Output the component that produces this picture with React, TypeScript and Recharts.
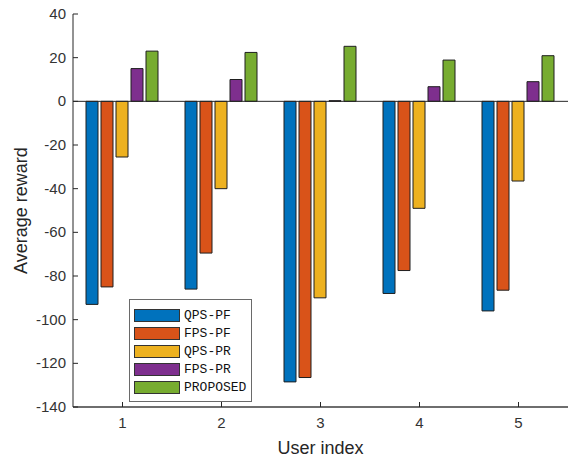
import { Bar, BarChart, ReferenceLine, XAxis, YAxis } from "recharts";

const users = ["1", "2", "3", "4", "5"];
const qpsPf = [-93, -86, -128.5, -88, -96];
const fpsPf = [-85, -69.5, -126.5, -77.5, -86.5];
const qpsPr = [-25.5, -40, -90, -49, -36.5];
const fpsPr = [15, 10, 0.3, 6.7, 9];
const proposed = [23, 22.4, 25.2, 18.9, 20.9];
const yTicks = [40, 20, 0, -20, -40, -60, -80, -100, -120, -140];

const series = [
  { key: "QPS-PF", color: "#0072BD" },
  { key: "FPS-PF", color: "#D95319" },
  { key: "QPS-PR", color: "#EDB120" },
  { key: "FPS-PR", color: "#7E2F8E" },
  { key: "PROPOSED", color: "#77AC30" },
];

const data = users.map((u, i) => ({
  user: u,
  "QPS-PF": qpsPf[i],
  "FPS-PF": fpsPf[i],
  "QPS-PR": qpsPr[i],
  "FPS-PR": fpsPr[i],
  PROPOSED: proposed[i],
}));

const AX = "#262626";

function LeftTick({ x, y, payload }: any) {
  return (
    <g>
      <line x1={x} x2={x + 5} y1={y} y2={y} stroke={AX} />
      <text x={x - 7} y={y} dy={5} textAnchor="end" fontSize={15} fill="#333">
        {payload.value}
      </text>
    </g>
  );
}

function RightTick({ x, y }: any) {
  return <line x1={x} x2={x - 5} y1={y} y2={y} stroke={AX} />;
}

function BottomTick({ x, y, payload }: any) {
  return (
    <g>
      <line x1={x} x2={x} y1={y} y2={y - 5} stroke={AX} />
      <text x={x} y={y + 21} textAnchor="middle" fontSize={15} fill="#333">
        {payload.value}
      </text>
    </g>
  );
}

function TopTick({ x, y }: any) {
  return <line x1={x} x2={x} y1={y} y2={y + 5} stroke={AX} />;
}

// MATLAB-style boxed legend, laid over the plot
function BoxLegend() {
  return (
    <div
      style={{
        position: "absolute",
        left: 129,
        top: 299,
        border: "1px solid #6a6a6a",
        background: "#fff",
        padding: "6px 4px 4px 4px",
        width: 113,
        fontFamily: '"Liberation Mono", "Courier New", monospace',
        fontSize: 13,
        color: "#111",
      }}
    >
      {series.map((s) => (
        <div
          key={s.key}
          style={{ display: "flex", alignItems: "center", height: 18.2 }}
        >
          <span
            style={{
              display: "inline-block",
              width: 44,
              height: 11,
              background: s.color,
              border: "1px solid #333",
              marginRight: 4,
            }}
          />
          {s.key}
        </div>
      ))}
    </div>
  );
}

export default function App() {
  return (
    <div
      style={{
        position: "absolute",
        left: 0,
        top: 0,
        width: 570,
        height: 458,
        background: "#fff",
        fontFamily: '"Liberation Sans", Arial, sans-serif',
      }}
    >
      <BarChart
        width={570}
        height={458}
        data={data}
        margin={{ top: 14, right: 2, left: 0, bottom: 0 }}
        barCategoryGap={13}
        barGap={3}
      >
        <XAxis
          dataKey="user"
          height={51}
          axisLine={{ stroke: "#6e6e6e", strokeWidth: 2 }}
          tickLine={false}
          tickSize={0}
          tickMargin={0}
          interval={0}
          tick={<BottomTick />}
          label={{
            value: "User index",
            position: "insideBottom",
            offset: 4,
            fontSize: 18,
            fill: AX,
          }}
        />
        <XAxis
          xAxisId="top"
          dataKey="user"
          orientation="top"
          height={0}
          axisLine={{ stroke: AX }}
          tickLine={false}
          tickSize={0}
          tickMargin={0}
          interval={0}
          tick={<TopTick />}
        />
        <YAxis
          domain={[-140, 40]}
          ticks={yTicks}
          width={73}
          axisLine={{ stroke: AX }}
          tickLine={false}
          tickSize={0}
          tickMargin={0}
          interval={0}
          tick={<LeftTick />}
          label={{
            value: "Average reward",
            angle: -90,
            position: "insideLeft",
            offset: 21,
            fontSize: 18,
            fill: AX,
            style: { textAnchor: "middle" },
          }}
        />
        <YAxis
          yAxisId="right"
          orientation="right"
          domain={[-140, 40]}
          ticks={yTicks}
          width={0}
          axisLine={{ stroke: AX }}
          tickLine={false}
          tickSize={0}
          tickMargin={0}
          interval={0}
          tick={<RightTick />}
        />
        <ReferenceLine y={0} stroke={AX} strokeWidth={1} />
        {series.map((s) => (
          <Bar
            key={s.key}
            dataKey={s.key}
            fill={s.color}
            stroke="#1f1f1f"
            strokeWidth={1}
            isAnimationActive={false}
          />
        ))}
      </BarChart>
      <BoxLegend />
    </div>
  );
}
